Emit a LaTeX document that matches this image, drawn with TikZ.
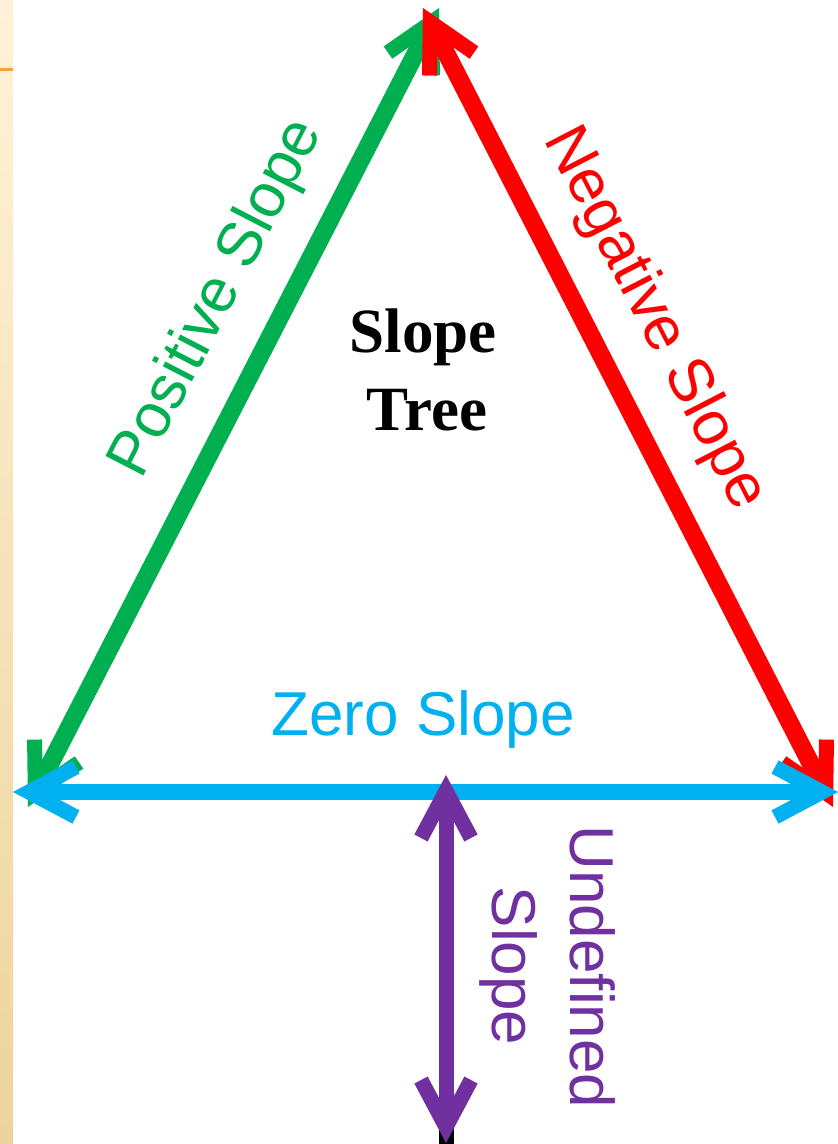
\documentclass[tikz,border=0pt]{standalone}
\usepackage{fontspec}
\setmainfont{Liberation Serif}
\setsansfont{Liberation Sans}
\usetikzlibrary{arrows.meta}
\definecolor{pgreen}{HTML}{00B050}
\definecolor{nred}{HTML}{FF0000}
\definecolor{zblue}{HTML}{00B0F0}
\definecolor{upurple}{HTML}{7030A0}
\definecolor{stripTop}{HTML}{FFF2D8}
\definecolor{stripBot}{HTML}{EDD49C}
\definecolor{orangeline}{HTML}{F4A23A}
\begin{document}
\begin{tikzpicture}[x=1pt,y=-1pt,
  conn/.style={line width=#1, >={Straight Barb[length=47pt,width=50pt,line width=15pt]}, <->},
  lbl/.style={font=\sffamily\fontsize{62}{62}\selectfont, inner sep=0pt, anchor=base},
  ttl/.style={font=\bfseries\fontsize{63}{63}\selectfont, inner sep=0pt, anchor=base},
  ]
\useasboundingbox (0,0) rectangle (838,1144);
\fill[white] (0,0) rectangle (838,1144);
\shade[top color=stripTop, bottom color=stripBot] (0,0) rectangle (13,1144);
\fill[orangeline] (0,68) rectangle (13,71);

\coordinate (gA) at (28,807);  \coordinate (gB) at (439,8);
\coordinate (rA) at (423,8);   \coordinate (rB) at (833,807);
\coordinate (bA) at (13,792);  \coordinate (bB) at (838,792);
\coordinate (pA) at (446,1143); \coordinate (pB) at (446,775);
\coordinate (k1) at (446,1128); \coordinate (k2) at (446,1144);

\draw[black, line width=15pt] (k1) -- (k2);
\draw[conn=18pt, pgreen] (gA) -- (gB);
\draw[conn=18pt, nred] (rA) -- (rB);
\draw[conn=16pt, zblue] (bA) -- (bB);
\draw[conn=15pt, upurple] (pA) -- (pB);

\node[ttl] (slope) at (423,352) {Slope};
\node[ttl] (tree) at (427,430) {Tree};

\node[lbl, text=zblue] (zero) at (423,735) {Zero Slope};
\node[lbl, text=pgreen, rotate=62.7] (pos) at (232,306) {Positive Slope};
\node[lbl, text=nred, rotate=-62.7] (neg) at (640,326) {Negative Slope};
\node[lbl, text=upurple, rotate=-90] (und) at (570,967) {Undefined};
\node[lbl, text=upurple, rotate=-90] (und2) at (492,966) {Slope};
\end{tikzpicture}
\end{document}
